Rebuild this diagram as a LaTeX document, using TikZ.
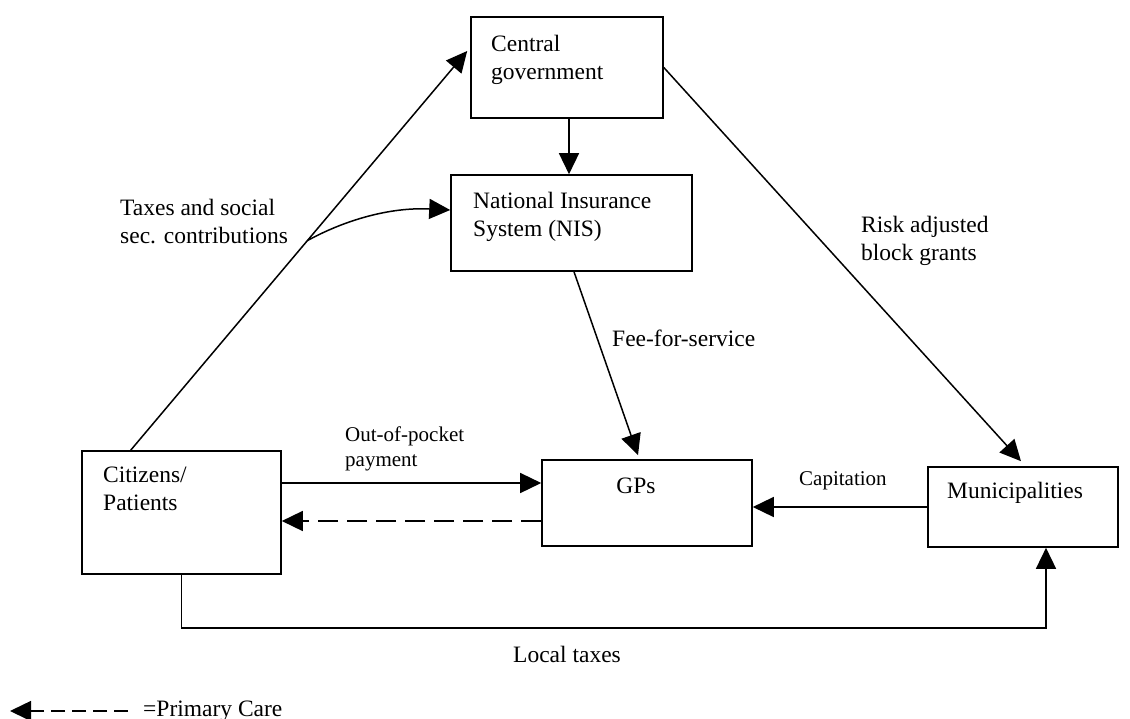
\documentclass[tikz,border=0pt]{standalone}
\usepackage{fontspec}
\setmainfont{Liberation Serif}
\usetikzlibrary{arrows.meta}
\tikzset{
  boxnode/.style={draw, line width=1.6pt, rectangle, inner sep=0pt},
  bigtxt/.style={font=\fontsize{23.5}{28}\selectfont, inner sep=0pt, align=left},
  smalltxt/.style={font=\fontsize{21}{25}\selectfont, inner sep=0pt, align=left},
  conn/.style={line width=1.5pt},
  arr/.style={conn, -{Triangle[length=21pt,width=20pt]}},
}
\begin{document}
\begin{tikzpicture}[x=1pt,y=-1pt]
\useasboundingbox (0,0) rectangle (1130,718);
% boxes
\node[boxnode, minimum width=192pt, minimum height=101pt] (cg) at (567,67.5) {};
\node[boxnode, minimum width=241pt, minimum height=96pt] (nis) at (571.5,223) {};
\node[boxnode, minimum width=199pt, minimum height=123pt] (cit) at (181.5,512.5) {};
\node[boxnode, minimum width=210pt, minimum height=86pt] (gps) at (647,503) {};
\node[boxnode, minimum width=190pt, minimum height=80pt] (mun) at (1023,507) {};
% box texts
\node[bigtxt, anchor=north west] (cgt) at (491,35) {Central\\government};
\node[bigtxt, anchor=north west] (nist) at (473,192) {National Insurance\\System (NIS)};
\node[bigtxt, anchor=north west] (citt) at (103,467) {Citizens/\\Patients};
\node[bigtxt, anchor=base] (gpst) at (636,493) {GPs};
\node[bigtxt, anchor=base west] (munt) at (947,498) {Municipalities};
% connector labels
\node[bigtxt, anchor=north west] (taxl) at (120,199) {Taxes and social\\sec. contributions};
\node[bigtxt, anchor=north west] (riskl) at (861,216) {Risk adjusted\\block grants};
\node[bigtxt, anchor=base west] (feel) at (612,346) {Fee-for-service};
\node[smalltxt, anchor=north west] (oopl) at (345,427) {Out-of-pocket\\payment};
\node[smalltxt, anchor=base west] (capl) at (799,485) {Capitation};
\node[bigtxt, anchor=base west] (ltl) at (513,662) {Local taxes};
% connectors
\draw[arr] ([xshift=49.5pt]cit.north west) -- coordinate[pos=0.525] (br) ([xshift=-3pt,yshift=16.5pt]cg.west);
\draw[arr] (br) .. controls (345,220) and (390,207) .. ([yshift=13pt]nis.west);
\draw[arr] ([xshift=2pt]cg.south) -- ([xshift=-2.5pt]nis.north);
\draw[arr] (cg.east) -- ([xshift=-2pt,yshift=5pt]mun.north);
\draw[arr] ([xshift=2.5pt]nis.south) -- ([xshift=-9pt,yshift=4pt]gps.north);
\draw[arr] ([yshift=29.5pt]cit.east) -- ([yshift=20pt]gps.west);
\draw[arr, dash pattern=on 20pt off 9pt] ([yshift=-18pt]gps.west) -- ([yshift=-8.5pt]cit.east);
\draw[arr] (mun.west) -- (mun.west -| gps.east);
\draw[arr] (cit.south) -- ++(0,53) -| ([xshift=23pt]mun.south);
% legend
\coordinate (lgs) at (128,711);
\coordinate (lge) at (10,711);
\draw[arr, dash pattern=on 14pt off 7pt] (lgs) -- (lge);
\node[bigtxt, anchor=base west] (lgt) at (143,716) {=Primary Care};
\end{tikzpicture}
\end{document}
